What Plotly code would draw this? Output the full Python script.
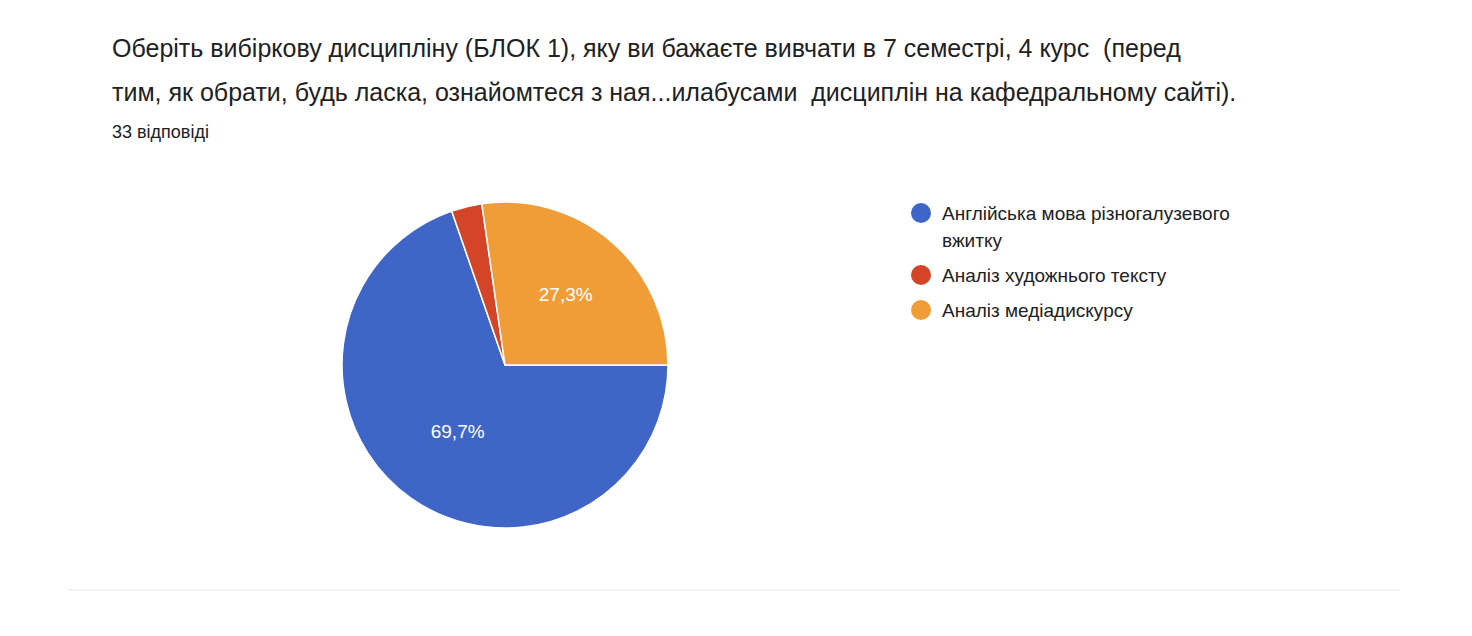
import plotly.graph_objects as go

labels = ["Англійська мова різногалузевого вжитку", "Аналіз художнього тексту", "Аналіз медіадискурсу"]
legend_lines = [["Англійська мова різногалузевого", "вжитку"], ["Аналіз художнього тексту"], ["Аналіз медіадискурсу"]]
values = [23, 1, 9]
slice_text = ["69,7%", "", "27,3%"]
colors = ["#3f66c6", "#d44427", "#f09d37"]
legend_y = [213, 275, 310]

W, H, OFF = 1472, 636, 8
def X(px): return (px - OFF) / W
def Y(py): return 1 - (py - OFF) / H

FONT = "Liberation Sans"
fig = go.Figure(go.Pie(
    labels=labels, values=values, sort=False, direction="clockwise", rotation=90,
    marker=dict(colors=colors, line=dict(color="white", width=1.5)),
    text=slice_text, textinfo="text", textposition="inside",
    textfont=dict(color="white", size=19, family=FONT),
    insidetextorientation="horizontal",
    domain=dict(x=[X(342), X(668)], y=[Y(528), Y(202)]),
    showlegend=False,
))

ann = [
    dict(text="Оберіть вибіркову дисципліну (БЛОК 1), яку ви бажаєте вивчати в 7 семестрі, 4 курс  (перед",
         x=X(110), y=Y(48), yanchor="middle"),
    dict(text="тим, як обрати, будь ласка, ознайомтеся з ная...илабусами  дисциплін на кафедральному сайті).",
         x=X(110), y=Y(92), yanchor="middle"),
]
for a in ann:
    a.update(xref="paper", yref="paper", xanchor="left", showarrow=False,
             font=dict(size=25, color="#202124", family=FONT))
ann.append(dict(text="33 відповіді", x=X(110), y=Y(132), xref="paper", yref="paper", xanchor="left",
                yanchor="middle", showarrow=False, font=dict(size=18, color="#202124", family=FONT)))

shapes = [dict(type="line", xref="paper", yref="paper", x0=X(68), x1=X(1400), y0=Y(590), y1=Y(590),
               line=dict(color="#e8e8e8", width=1))]
for lines, c, ly in zip(legend_lines, colors, legend_y):
    shapes.append(dict(type="circle", xref="paper", yref="paper", x0=X(911), x1=X(931),
                       y0=Y(ly + 10), y1=Y(ly - 10), fillcolor=c, line=dict(width=0)))
    for i, t in enumerate(lines):
        ann.append(dict(text=t, x=X(940), y=Y(ly + i * 28), xref="paper", yref="paper", xanchor="left",
                        yanchor="middle", showarrow=False, font=dict(size=19, color="#202124", family=FONT)))

fig.update_layout(width=W, height=H, margin=dict(l=0, r=0, t=0, b=0),
                  paper_bgcolor="white", plot_bgcolor="white",
                  font=dict(family=FONT, color="#202124"),
                  annotations=ann, shapes=shapes)
fig.write_html("out.html")
